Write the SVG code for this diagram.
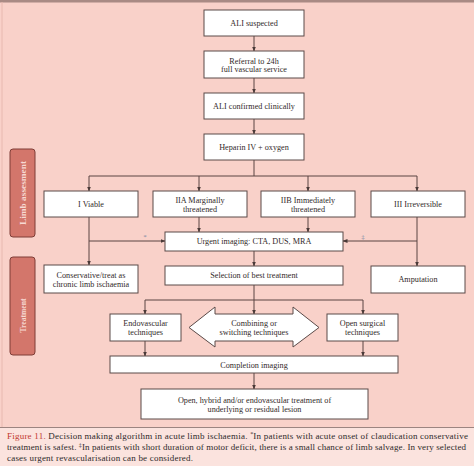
<svg xmlns="http://www.w3.org/2000/svg" width="474" height="466" viewBox="0 0 474 466">
<defs>
<marker id="ah" markerWidth="5" markerHeight="5" refX="4.5" refY="2.5" orient="auto" markerUnits="userSpaceOnUse">
<path d="M0,0.5 L5,2.5 L0,4.5 Z" fill="#4a3a38"/>
</marker>
<style>
.bg{fill:#f9d1c9}
.box{fill:#ffffff;stroke:#5b4a48;stroke-width:1}
.t{font-family:"Liberation Serif","DejaVu Serif",serif;font-size:8.2px;fill:#332a2a;text-anchor:middle}
.c{fill:none;stroke:#5b4442;stroke-width:1}
.a{marker-end:url(#ah)}
.side{fill:#d3766b;stroke:#7e3d36;stroke-width:1}
.st{font-family:"Liberation Serif","DejaVu Serif",serif;font-size:9px;font-weight:bold;fill:#f7d9d3;text-anchor:middle}
.cap{font-family:"Liberation Serif","DejaVu Serif",serif;font-size:9px;fill:#2e2a2a}
.mk{font-family:"Liberation Serif","DejaVu Serif",serif;font-size:7px;fill:#7d88a3;text-anchor:middle}
</style>
</defs>
<rect x="0" y="0" width="474" height="466" fill="#fbe3de"/>
<rect class="bg" x="0" y="0" width="474" height="427"/>
<rect x="0" y="0" width="474" height="2.5" fill="#a98a84"/>
<line x1="2" y1="2" x2="2" y2="427" stroke="#e8b9b0" stroke-width="1"/>
<line x1="0" y1="427.5" x2="474" y2="427.5" stroke="#9c8480" stroke-width="1"/>

<g id="side-limb">
<rect class="side" x="10" y="149" width="25" height="88" rx="3"/>
<text class="st" transform="translate(25.5,193) rotate(-90)" textLength="64" lengthAdjust="spacingAndGlyphs">Limb assesment</text>
</g>
<g id="side-treatment">
<rect class="side" x="10" y="257" width="25" height="98" rx="3"/>
<text class="st" transform="translate(25.5,315.5) rotate(-90)" textLength="34" lengthAdjust="spacingAndGlyphs">Treatment</text>
</g>

<g id="connectors">
<line class="c a" x1="254" y1="36" x2="254" y2="51"/>
<line class="c a" x1="254" y1="78" x2="254" y2="93"/>
<line class="c a" x1="254" y1="119" x2="254" y2="134"/>
<polyline class="c" points="254,160 254,176"/>
<line class="c" x1="89" y1="176" x2="417" y2="176"/>
<line class="c a" x1="89" y1="176" x2="89" y2="191"/>
<line class="c a" x1="199" y1="176" x2="199" y2="191"/>
<line class="c a" x1="308" y1="176" x2="308" y2="191"/>
<line class="c a" x1="417" y1="176" x2="417" y2="191"/>
<line class="c a" x1="199" y1="217" x2="199" y2="232"/>
<line class="c a" x1="308" y1="217" x2="308" y2="232"/>
<line class="c a" x1="89" y1="217" x2="89" y2="265"/>
<line class="c a" x1="89" y1="241" x2="165" y2="241"/>
<line class="c a" x1="417" y1="217" x2="417" y2="266"/>
<line class="c a" x1="417" y1="241" x2="343" y2="241"/>
<line class="c a" x1="254" y1="251" x2="254" y2="266"/>
<line class="c" x1="254" y1="285" x2="254" y2="300"/>
<line class="c" x1="145" y1="300" x2="363" y2="300"/>
<line class="c a" x1="145" y1="300" x2="145" y2="314"/>
<line class="c a" x1="363" y1="300" x2="363" y2="314"/>
<line class="c a" x1="254" y1="300" x2="254" y2="314"/>
<line class="c a" x1="145" y1="341" x2="145" y2="356"/>
<line class="c a" x1="363" y1="341" x2="363" y2="356"/>
<line class="c a" x1="254" y1="373" x2="254" y2="389"/>
<text class="mk" x="145" y="239">*</text>
<text class="mk" x="363" y="239">‡</text>
</g>

<g id="n-ali-suspected">
<rect class="box" x="204" y="10" width="100" height="26"/>
<text class="t" x="254" y="25.8">ALI suspected</text>
</g>
<g id="n-referral">
<rect class="box" x="204" y="51" width="100" height="27"/>
<text class="t" x="254" y="63.5">Referral to 24h</text>
<text class="t" x="254" y="72.3">full vascular service</text>
</g>
<g id="n-ali-confirmed">
<rect class="box" x="204" y="93" width="100" height="26"/>
<text class="t" x="254" y="108.8">ALI confirmed clinically</text>
</g>
<g id="n-heparin">
<rect class="box" x="204" y="134" width="100" height="26"/>
<text class="t" x="254" y="149.8">Heparin IV  +  oxygen</text>
</g>
<g id="n-viable">
<rect class="box" x="44" y="191" width="94" height="26"/>
<text class="t" x="91" y="206.8">I Viable</text>
</g>
<g id="n-iia">
<rect class="box" x="153" y="191" width="94" height="26"/>
<text class="t" x="200" y="202.8">IIA Marginally</text>
<text class="t" x="200" y="211.8">threatened</text>
</g>
<g id="n-iib">
<rect class="box" x="261" y="191" width="94" height="26"/>
<text class="t" x="308" y="202.8">IIB Immediately</text>
<text class="t" x="308" y="211.8">threatened</text>
</g>
<g id="n-iii">
<rect class="box" x="371" y="191" width="94" height="26"/>
<text class="t" x="418" y="206.8">III Irreversible</text>
</g>
<g id="n-urgent">
<rect class="box" x="165" y="232" width="178" height="19"/>
<text class="t" x="254" y="244.3">Urgent imaging: CTA, DUS, MRA</text>
</g>
<g id="n-conservative">
<rect class="box" x="44" y="265" width="94" height="28"/>
<text class="t" x="91" y="277.8">Conservative/treat as</text>
<text class="t" x="91" y="286.5">chronic limb ischaemia</text>
</g>
<g id="n-selection">
<rect class="box" x="165" y="266" width="178" height="19"/>
<text class="t" x="254" y="278.3">Selection of best treatment</text>
</g>
<g id="n-amputation">
<rect class="box" x="371" y="266" width="94" height="27"/>
<text class="t" x="418" y="282">Amputation</text>
</g>
<g id="n-endovascular">
<rect class="box" x="110" y="314" width="71" height="27"/>
<text class="t" x="145.5" y="325.8">Endovascular</text>
<text class="t" x="145.5" y="334.8">techniques</text>
</g>
<g id="n-combining">
<polygon class="box" points="189,327.5 215,307 215,314 293,314 293,307 319,327.5 293,347 293,341 215,341 215,347"/>
<text class="t" x="254" y="326.3">Combining or</text>
<text class="t" x="254" y="335.3">switching techniques</text>
</g>
<g id="n-open-surgical">
<rect class="box" x="327" y="314" width="71" height="27"/>
<text class="t" x="362.5" y="325.8">Open surgical</text>
<text class="t" x="362.5" y="334.8">techniques</text>
</g>
<g id="n-completion">
<rect class="box" x="110" y="356" width="288" height="17"/>
<text class="t" x="254" y="367.8">Completion imaging</text>
</g>
<g id="n-final">
<rect class="box" x="141" y="389" width="227" height="30"/>
<text class="t" x="254.5" y="402.8">Open, hybrid and/or endovascular treatment of</text>
<text class="t" x="254.5" y="411.5">underlying or residual lesion</text>
</g>

<g id="caption">
<text class="cap" x="7" y="439" textLength="461" lengthAdjust="spacing"><tspan fill="#c2382f">Figure 11.</tspan> Decision making algorithm in acute limb ischaemia. <tspan font-size="6" dy="-3">*</tspan><tspan dy="3">In patients with acute onset of claudication conservative</tspan></text>
<text class="cap" x="7" y="450" textLength="459" lengthAdjust="spacing">treatment is safest. <tspan font-size="6" dy="-3">‡</tspan><tspan dy="3">In patients with short duration of motor deficit, there is a small chance of limb salvage. In very selected</tspan></text>
<text class="cap" x="7" y="461" textLength="186" lengthAdjust="spacing">cases urgent revascularisation can be considered.</text>
</g>
</svg>
